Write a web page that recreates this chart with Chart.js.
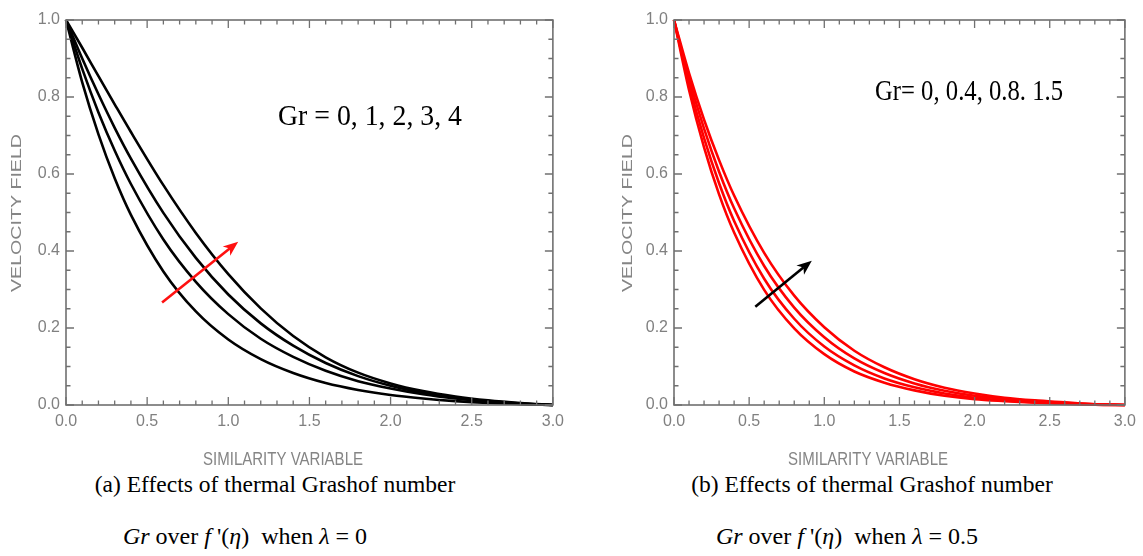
<!DOCTYPE html>
<html><head><meta charset="utf-8">
<script src="https://cdn.jsdelivr.net/npm/chart.js@4.4.1/dist/chart.umd.min.js"></script>
<style>
html,body{margin:0;padding:0;background:#fff;width:1143px;height:556px;overflow:hidden;}
canvas{position:absolute;top:0;}
#ca{left:0;}
#cb{left:571px;}
.cap{position:absolute;font-family:"Liberation Serif","Times New Roman",serif;color:#000;white-space:nowrap;transform:translateX(-50%);line-height:24px;font-size:23.5px;}
.m{font-style:italic;}
</style></head>
<body>
<canvas id="ca" width="571" height="470"></canvas>
<canvas id="cb" width="572" height="470"></canvas>
<div class="cap" style="left:275px;top:472px">(a) Effects of thermal Grashof number</div>
<div class="cap" style="left:245px;top:524px;font-size:24px"><span class="m">Gr</span> over <span class="m">f</span> '(<span class="m">η</span>) &nbsp;when <span class="m">λ</span> = 0</div>
<div class="cap" style="left:872px;top:472px">(b) Effects of thermal Grashof number</div>
<div class="cap" style="left:847px;top:524px;font-size:24px"><span class="m">Gr</span> over <span class="m">f</span> '(<span class="m">η</span>) &nbsp;when <span class="m">λ</span> = 0.5</div>
<script>
// ---- data ----
const eta = [0,0.1,0.2,0.3,0.4,0.6,0.8,1.0,1.2,1.4,1.6,1.8,2.0,2.2,2.4,2.6,2.8,3.0];
const leftGr0 = [1,0.838,0.703,0.589,0.494,0.347,0.243,0.170,0.119,0.083,0.057,0.039,0.026,0.017,0.010,0.005,0.002,0];
const leftGr1 = [1,0.873,0.760,0.661,0.574,0.430,0.320,0.236,0.172,0.125,0.089,0.062,0.043,0.028,0.017,0.009,0.003,0];
const leftGr2 = [1,0.900,0.807,0.720,0.640,0.499,0.382,0.287,0.212,0.154,0.109,0.075,0.050,0.032,0.019,0.010,0.004,0];
const leftGr3 = [1,0.928,0.854,0.781,0.709,0.571,0.447,0.340,0.251,0.179,0.124,0.084,0.056,0.036,0.022,0.012,0.005,0];
const rightGr0 = [1,0.818,0.669,0.547,0.448,0.299,0.199,0.132,0.087,0.058,0.038,0.024,0.015,0.010,0.006,0.003,0.001,0];
const rightGr1 = [1,0.833,0.693,0.576,0.478,0.328,0.224,0.152,0.103,0.069,0.046,0.030,0.019,0.012,0.007,0.004,0.001,0];
const rightGr2 = [1,0.848,0.718,0.606,0.511,0.361,0.253,0.176,0.121,0.083,0.056,0.037,0.024,0.016,0.010,0.005,0.002,0];
const rightGr3 = [1,0.862,0.741,0.636,0.544,0.395,0.284,0.202,0.141,0.098,0.067,0.045,0.030,0.019,0.012,0.007,0.002,0];
const xTickValues = [0,0.5,1,1.5,2,2.5,3];
const xTickLabels = ['0.0','0.5','1.0','1.5','2.0','2.5','3.0'];
const yTickValues = [0,0.2,0.4,0.6,0.8,1];
const yTickLabels = ['0.0','0.2','0.4','0.6','0.8','1.0'];
const leftArrow = [[0.592,0.266],[1.061,0.424]];
const rightArrow = [[0.541,0.255],[0.917,0.375]];
const leftNote = 'Gr = 0, 1, 2, 3, 4';
const rightNote = 'Gr= 0, 0.4, 0.8. 1.5';
const xTitle = 'SIMILARITY VARIABLE';
const yTitle = 'VELOCITY FIELD';

function pts(vals){ return eta.map((x,i)=>({x:x, y:vals[i]})); }

function drawFit(ctx, text, x, y, font, width, sy, rot, align){
  ctx.save();
  ctx.font = font;
  const w = ctx.measureText(text).width;
  ctx.translate(x, y);
  if (rot) ctx.rotate(rot);
  ctx.scale(width / w, sy);
  ctx.textAlign = align || 'center';
  ctx.fillText(text, 0, 0);
  ctx.restore();
}

function decor(o){
  return {
    id: 'decor',
    afterDatasetsDraw(chart){
      const ctx = chart.ctx, a = chart.chartArea, xs = chart.scales.x, ys = chart.scales.y;
      ctx.save();
      // frame
      ctx.strokeStyle = '#707070'; ctx.lineWidth = 1.6;
      ctx.strokeRect(a.left, a.top, a.right - a.left, a.bottom - a.top);
      // inward ticks
      ctx.lineWidth = 1.3;
      ctx.beginPath();
      for (let i = 0; i <= 30; i++){
        const px = xs.getPixelForValue(i / 10);
        const len = (i % 5 === 0) ? 8 : 4.5;
        ctx.moveTo(px, a.bottom); ctx.lineTo(px, a.bottom - len);
        ctx.moveTo(px, a.top); ctx.lineTo(px, a.top + len);
      }
      for (let i = 0; i <= 20; i++){
        const py = ys.getPixelForValue(i / 20);
        const len = (i % 4 === 0) ? 8 : 4.5;
        ctx.moveTo(a.left, py); ctx.lineTo(a.left + len, py);
        ctx.moveTo(a.right, py); ctx.lineTo(a.right - len, py);
      }
      ctx.stroke();
      // arrow
      const x1 = xs.getPixelForValue(o.arrow[0][0]), y1 = ys.getPixelForValue(o.arrow[0][1]);
      const x2 = xs.getPixelForValue(o.arrow[1][0]), y2 = ys.getPixelForValue(o.arrow[1][1]);
      const ang = Math.atan2(y2 - y1, x2 - x1), c = Math.cos(ang), s = Math.sin(ang);
      const hl = 15, hw = 6;
      ctx.strokeStyle = o.arrowColor; ctx.fillStyle = o.arrowColor; ctx.lineWidth = 2.6;
      ctx.beginPath(); ctx.moveTo(x1, y1); ctx.lineTo(x2 - hl * 0.7 * c, y2 - hl * 0.7 * s); ctx.stroke();
      ctx.beginPath();
      ctx.moveTo(x2, y2);
      ctx.lineTo(x2 - hl * c + hw * s, y2 - hl * s - hw * c);
      ctx.lineTo(x2 - hl * 0.72 * c, y2 - hl * 0.72 * s);
      ctx.lineTo(x2 - hl * c - hw * s, y2 - hl * s + hw * c);
      ctx.closePath(); ctx.fill();
      // note
      ctx.fillStyle = '#000';
      drawFit(ctx, o.note, o.notePos[0], o.notePos[1], o.noteFont, o.noteWidth, 1.12, 0, 'left');
      // axis titles
      ctx.fillStyle = '#858585';
      drawFit(ctx, xTitle, o.xTitlePos[0], o.xTitlePos[1], '15px "Liberation Sans", Arial, sans-serif', 160, 1.2, 0, 'center');
      ctx.textBaseline = 'middle';
      drawFit(ctx, yTitle, o.yTitlePos[0], o.yTitlePos[1], '15px "Liberation Sans", Arial, sans-serif', 158, 1.0, -Math.PI / 2, 'center');
      ctx.restore();
    }
  };
}

function makeChart(id, series, color, yWidth, rightPad, o){
  const tickFont = {family: '"Liberation Sans", Arial, sans-serif', size: 16};
  return new Chart(document.getElementById(id), {
    type: 'line',
    data: {
      datasets: series.map(s => ({
        data: pts(s), borderColor: color, borderWidth: 2.6, pointRadius: 0,
        cubicInterpolationMode: 'monotone', fill: false, clip: false
      }))
    },
    options: {
      responsive: false, animation: false, devicePixelRatio: 1,
      layout: {padding: {top: 20, right: rightPad, bottom: 0, left: 0}},
      plugins: {legend: {display: false}, tooltip: {enabled: false}},
      scales: {
        x: {
          type: 'linear', min: 0, max: 3,
          afterBuildTicks: sc => { sc.ticks = xTickValues.map(v => ({value: v})); },
          afterFit: sc => { sc.height = 65; },
          ticks: {font: tickFont, color: '#808080', padding: 7, maxRotation: 0,
                  callback: (v, i) => xTickLabels[i]},
          grid: {display: false, drawTicks: false}, border: {display: false}
        },
        y: {
          type: 'linear', min: 0, max: 1,
          afterBuildTicks: sc => { sc.ticks = yTickValues.map(v => ({value: v})); },
          afterFit: sc => { sc.width = yWidth; },
          ticks: {font: tickFont, color: '#808080', padding: 6,
                  callback: (v, i) => yTickLabels[i]},
          grid: {display: false, drawTicks: false}, border: {display: false}
        }
      }
    },
    plugins: [decor(o)]
  });
}

makeChart('ca', [leftGr0, leftGr1, leftGr2, leftGr3], '#000000', 66, 15, {
  arrow: leftArrow, arrowColor: '#ff1010', note: leftNote, notePos: [278, 125],
  noteFont: '27px "Liberation Serif", "Times New Roman", serif', noteWidth: 184,
  xTitlePos: [283, 465], yTitlePos: [17, 213]
});
makeChart('cb', [rightGr0, rightGr1, rightGr2, rightGr3], '#ff0000', 103, 11, {
  arrow: rightArrow, arrowColor: '#000000', note: rightNote, notePos: [304, 100],
  noteFont: '26px "Liberation Serif", "Times New Roman", serif', noteWidth: 188,
  xTitlePos: [297, 465], yTitlePos: [57, 213]
});
</script>
</body></html>
